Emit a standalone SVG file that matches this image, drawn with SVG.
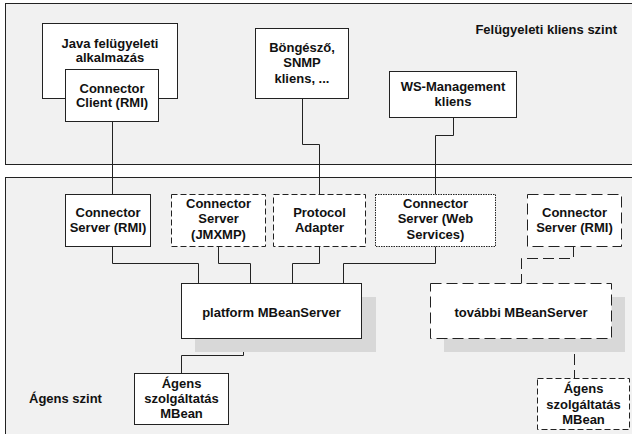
<svg xmlns="http://www.w3.org/2000/svg" width="632" height="434" viewBox="0 0 632 434">
  <style>
    text { font-family: "Liberation Sans", Arial, sans-serif; font-weight: bold; font-size: 13px; fill: #111; }
    .mid { text-anchor: middle; }
    .panel { fill: #f1f1f1; stroke: #222; stroke-width: 1; }
    .box { fill: #fff; stroke: #222; stroke-width: 1; }
    .dash-s { stroke-dasharray: 6 3; }
    .dash-l { stroke-dasharray: 11 5; }
    .dot { stroke-dasharray: 1.5 1; }
    .shadow { fill: #d8d8d8; }
    .wire { fill: none; stroke: #222; stroke-width: 1; }
  </style>

  <rect width="632" height="434" fill="#fff"/>

  <!-- layers -->
  <g id="client-layer">
    <rect class="panel" x="5.5" y="3.5" width="640" height="161"/>
    <text x="617" y="33.5" text-anchor="end">Felügyeleti kliens szint</text>
  </g>
  <g id="agent-layer">
    <rect class="panel" x="5.5" y="177.5" width="640" height="270"/>
    <text x="29" y="402.5">Ágens szint</text>
  </g>

  <!-- connectors -->
  <g id="connectors">
    <path class="wire" d="M112.5 121 V194"/>
    <path class="wire" d="M302.5 98 V144.5 H319.5 V194"/>
    <path class="wire" d="M453.5 117 V135.5 H435.5 V194"/>
    <path class="wire" d="M112.5 246 V263.5 H198.5 V283"/>
    <path class="wire" d="M218.5 246 V263.5 H250.5 V283"/>
    <path class="wire" d="M319.5 246 V263.5 H292.5 V283"/>
    <path class="wire" d="M435.5 246 V263.5 H343.5 V283"/>
    <path class="wire" d="M243.5 338 V355.5 H181.5 V373"/>
    <path class="wire dash-l" d="M573.5 246 V258.5 H521.5 V283"/>
    <path class="wire dash-l" d="M574.5 338 V378"/>
  </g>

  <!-- client nodes -->
  <g id="java-app">
    <rect class="box" x="42.5" y="23.5" width="135" height="75"/>
    <text class="mid" x="110" y="47.5">Java felügyeleti</text>
    <text class="mid" x="110" y="62">alkalmazás</text>
  </g>
  <g id="connector-client">
    <rect class="box" x="65.5" y="69.5" width="93" height="52"/>
    <text class="mid" x="112" y="92.5">Connector</text>
    <text class="mid" x="112" y="107">Client (RMI)</text>
  </g>
  <g id="browser-snmp">
    <rect class="box" x="255.5" y="28.5" width="93" height="70"/>
    <text class="mid" x="302" y="51.5">Böngésző,</text>
    <text class="mid" x="302" y="67">SNMP</text>
    <text class="mid" x="302" y="82.5">kliens, ...</text>
  </g>
  <g id="ws-management">
    <rect class="box" x="389.5" y="71.5" width="127" height="46"/>
    <text class="mid" x="453" y="90.5">WS-Management</text>
    <text class="mid" x="453" y="105.5">kliens</text>
  </g>

  <!-- agent nodes -->
  <g id="connector-server-rmi">
    <rect class="box" x="65.5" y="194.5" width="85" height="52"/>
    <text class="mid" x="108" y="216.5">Connector</text>
    <text class="mid" x="108" y="231.5">Server (RMI)</text>
  </g>
  <g id="connector-server-jmxmp">
    <rect class="box dash-s" x="171.5" y="194.5" width="94" height="52"/>
    <text class="mid" x="218.5" y="207.5">Connector</text>
    <text class="mid" x="218.5" y="223">Server</text>
    <text class="mid" x="218.5" y="238.5">(JMXMP)</text>
  </g>
  <g id="protocol-adapter">
    <rect class="box dash-s" x="273.5" y="194.5" width="92" height="52"/>
    <text class="mid" x="319.5" y="216.5">Protocol</text>
    <text class="mid" x="319.5" y="231.5">Adapter</text>
  </g>
  <g id="connector-server-ws">
    <rect class="box dot" x="375.5" y="194.5" width="120" height="52"/>
    <text class="mid" x="435.5" y="207.5">Connector</text>
    <text class="mid" x="435.5" y="223">Server (Web</text>
    <text class="mid" x="435.5" y="238.5">Services)</text>
  </g>
  <g id="connector-server-rmi-2">
    <rect class="box dash-l" x="527.5" y="194.5" width="94" height="52"/>
    <text class="mid" x="574.5" y="216.5">Connector</text>
    <text class="mid" x="574.5" y="231.5">Server (RMI)</text>
  </g>
  <g id="platform-mbeanserver">
    <rect class="shadow" x="195" y="297" width="181" height="55"/>
    <rect class="box" x="181.5" y="283.5" width="180" height="55"/>
    <text class="mid" x="271.5" y="316.5">platform MBeanServer</text>
  </g>
  <g id="further-mbeanserver">
    <rect class="shadow" x="444" y="297" width="181" height="55"/>
    <rect class="box dash-l" x="430.5" y="283.5" width="181" height="55"/>
    <text class="mid" x="521" y="316.5">további MBeanServer</text>
  </g>
  <g id="agent-service-mbean">
    <rect class="box" x="134.5" y="373.5" width="94" height="51"/>
    <text class="mid" x="181.5" y="387.5">Ágens</text>
    <text class="mid" x="181.5" y="402.5">szolgáltatás</text>
    <text class="mid" x="181.5" y="418">MBean</text>
  </g>
  <g id="agent-service-mbean-2">
    <rect class="box dash-s" x="537.5" y="378.5" width="92" height="51"/>
    <text class="mid" x="583.5" y="393">Ágens</text>
    <text class="mid" x="583.5" y="408.5">szolgáltatás</text>
    <text class="mid" x="583.5" y="424">MBean</text>
  </g>
</svg>
